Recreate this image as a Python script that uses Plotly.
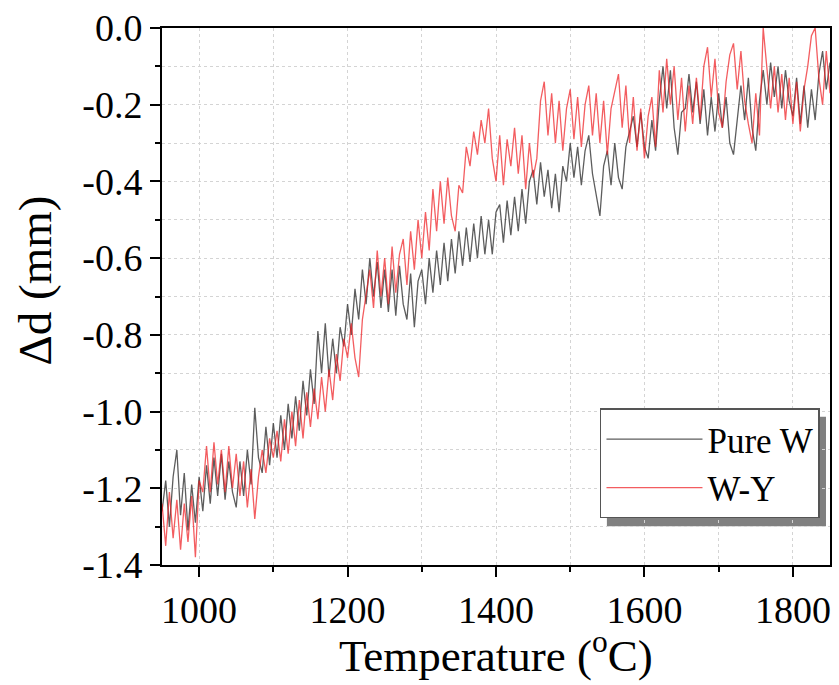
import plotly.graph_objects as go

# Temperature sampling (°C)
temperature = list(range(950, 1851, 5))

# Pure W displacement (mm)
pure_w = [
    -1.26, -1.18, -1.30, -1.17, -1.10, -1.27, -1.16, -1.31, -1.19, -1.29, -1.17,
    -1.26, -1.14, -1.24, -1.12, -1.22, -1.11, -1.23, -1.13, -1.21, -1.25,
    -1.13, -1.22, -1.10, -1.19, -0.99, -1.12, -1.16, -1.04, -1.14, -1.03,
    -1.12, -1.01, -1.10, -0.98, -1.07, -0.96, -1.05, -0.92, -1.01, -0.89,
    -0.98, -0.79, -0.90, -0.77, -0.91, -0.81, -0.90, -0.78, -0.83, -0.72,
    -0.80, -0.68, -0.76, -0.63, -0.72, -0.60, -0.70, -0.61, -0.73, -0.63,
    -0.74, -0.63, -0.75, -0.62, -0.72, -0.76, -0.64, -0.78, -0.66, -0.63,
    -0.72, -0.60, -0.69, -0.58, -0.67, -0.56, -0.66, -0.55, -0.64, -0.53,
    -0.62, -0.52, -0.61, -0.51, -0.60, -0.49, -0.59, -0.50, -0.59, -0.48,
    -0.46, -0.56, -0.45, -0.54, -0.44, -0.53, -0.42, -0.51, -0.40, -0.37,
    -0.46, -0.35, -0.44, -0.37, -0.47, -0.38, -0.48, -0.36, -0.40, -0.30,
    -0.39, -0.31, -0.41, -0.32, -0.28, -0.38, -0.43, -0.49, -0.36, -0.32,
    -0.41, -0.30, -0.39, -0.42, -0.31, -0.27, -0.23, -0.31, -0.22, -0.31,
    -0.34, -0.24, -0.32, -0.19, -0.10, -0.21, -0.11, -0.26, -0.33, -0.22,
    -0.21, -0.12, -0.22, -0.14, -0.25, -0.16, -0.28, -0.18, -0.27, -0.17,
    -0.26, -0.18, -0.30, -0.33, -0.23, -0.15, -0.24, -0.13, -0.26, -0.32,
    -0.19, -0.11, -0.20, -0.09, -0.18, -0.10, -0.21, -0.11, -0.19, -0.23,
    -0.13, -0.25, -0.15, -0.26, -0.16, -0.24, -0.12, -0.06, -0.16, -0.09,
]

# W-Y displacement (mm)
w_y = [
    -1.24, -1.35, -1.21, -1.33, -1.23, -1.36, -1.24, -1.34, -1.22, -1.38, -1.18,
    -1.21, -1.09, -1.21, -1.08, -1.19, -1.10, -1.21, -1.09, -1.20, -1.11,
    -1.22, -1.13, -1.25, -1.15, -1.28, -1.17, -1.10, -1.16, -1.07, -1.12,
    -1.05, -1.13, -1.02, -1.11, -1.00, -1.09, -0.97, -1.07, -0.95, -1.04,
    -0.94, -1.02, -0.91, -1.00, -0.89, -0.97, -0.85, -0.92, -0.81, -0.86,
    -0.77, -0.86, -0.91, -0.76, -0.70, -0.63, -0.73, -0.58, -0.70, -0.60,
    -0.72, -0.57, -0.69, -0.59, -0.55, -0.67, -0.53, -0.63, -0.50, -0.60,
    -0.48, -0.58, -0.42, -0.53, -0.40, -0.51, -0.39, -0.49, -0.53, -0.41,
    -0.43, -0.31, -0.36, -0.27, -0.33, -0.24, -0.30, -0.21, -0.34, -0.40,
    -0.28, -0.41, -0.29, -0.36, -0.26, -0.38, -0.28, -0.42, -0.30, -0.39,
    -0.34, -0.19, -0.14, -0.28, -0.17, -0.30, -0.19, -0.32, -0.21, -0.16,
    -0.29, -0.18, -0.31, -0.20, -0.15, -0.28, -0.17, -0.30, -0.19, -0.33,
    -0.21, -0.16, -0.12, -0.26, -0.15, -0.30, -0.18, -0.32, -0.21, -0.34,
    -0.23, -0.18, -0.31, -0.11, -0.22, -0.08, -0.20, -0.10, -0.24, -0.13,
    -0.27, -0.15, -0.25, -0.13, -0.24, -0.10, -0.05, -0.18, -0.08, -0.22,
    -0.26, -0.14, -0.07, -0.04, -0.16, -0.06, -0.19, -0.25, -0.30, -0.17,
    -0.28, 0.00, -0.10, -0.21, -0.10, -0.22, -0.12, -0.24, -0.13, -0.25,
    -0.14, -0.27, -0.16, -0.10, -0.02, 0.00, -0.13, -0.20, -0.06, -0.17,
]

x_tick_vals = [1000, 1200, 1400, 1600, 1800]
x_tick_text = ["1000", "1200", "1400", "1600", "1800"]
y_tick_vals = [-1.4, -1.2, -1.0, -0.8, -0.6, -0.4, -0.2, 0.0]
y_tick_text = ["-1.4", "-1.2", "-1.0", "-0.8", "-0.6", "-0.4", "-0.2", "0.0"]

FONT = "Liberation Serif, Times New Roman, serif"

fig = go.Figure()
fig.add_trace(go.Scatter(
    x=temperature, y=pure_w, mode="lines", name="Pure W",
    line=dict(color="rgba(30,30,30,0.72)", width=1.3),
))
fig.add_trace(go.Scatter(
    x=temperature, y=w_y, mode="lines", name="W-Y",
    line=dict(color="rgba(238,30,35,0.72)", width=1.3),
))

# legend drop shadow (legend box offset by ~8 px right/down)
fig.add_shape(type="rect", xref="paper", yref="paper",
              x0=0.666, x1=0.994, y0=0.072, y1=0.276,
              fillcolor="#808080", line=dict(width=0), layer="below")

axis_common = dict(
    showline=True, linecolor="black", linewidth=2, mirror=True,
    ticks="outside", ticklen=10, tickwidth=2, tickcolor="black",
    showgrid=True, gridcolor="#d4d4d4", griddash="dot", gridwidth=1,
    zeroline=False,
    tickfont=dict(family=FONT, size=38, color="black"),
)

fig.update_xaxes(
    range=[950, 1850], tickvals=x_tick_vals, ticktext=x_tick_text,
    minor=dict(dtick=100, tick0=900, ticklen=5, tickwidth=2, tickcolor="black",
               ticks="outside", showgrid=True, gridcolor="#d4d4d4", griddash="dot"),
    **axis_common,
)
fig.update_yaxes(
    range=[-1.4, 0.0], tickvals=y_tick_vals, ticktext=y_tick_text,
    minor=dict(dtick=0.1, tick0=0, ticklen=5, tickwidth=2, tickcolor="black",
               ticks="outside", showgrid=True, gridcolor="#d4d4d4", griddash="dot"),
    **axis_common,
)

# axis titles
fig.add_annotation(
    text="Temperature (<sup>o</sup>C)", xref="paper", yref="paper",
    x=0.5, y=-0.2205, xanchor="center", yanchor="bottom", showarrow=False,
    font=dict(family=FONT, size=45, color="black"),
)
fig.add_annotation(
    text="Δd (mm)", xref="paper", yref="paper",
    x=-0.190, y=0.530, xanchor="center", yanchor="middle",
    textangle=-90, showarrow=False,
    font=dict(family=FONT, size=47, color="black"),
)

fig.update_layout(
    width=839, height=685,
    margin=dict(l=162, r=7, t=26, b=120),
    plot_bgcolor="white", paper_bgcolor="white",
    font=dict(family=FONT, color="black"),
    legend=dict(
        x=0.985, y=0.087, xanchor="right", yanchor="bottom",
        bgcolor="white", bordercolor="#555555", borderwidth=1.5,
        font=dict(family=FONT, size=35, color="black"),
        itemwidth=96, tracegroupgap=0,
    ),
    showlegend=True,
)

fig.write_html("out.html")
